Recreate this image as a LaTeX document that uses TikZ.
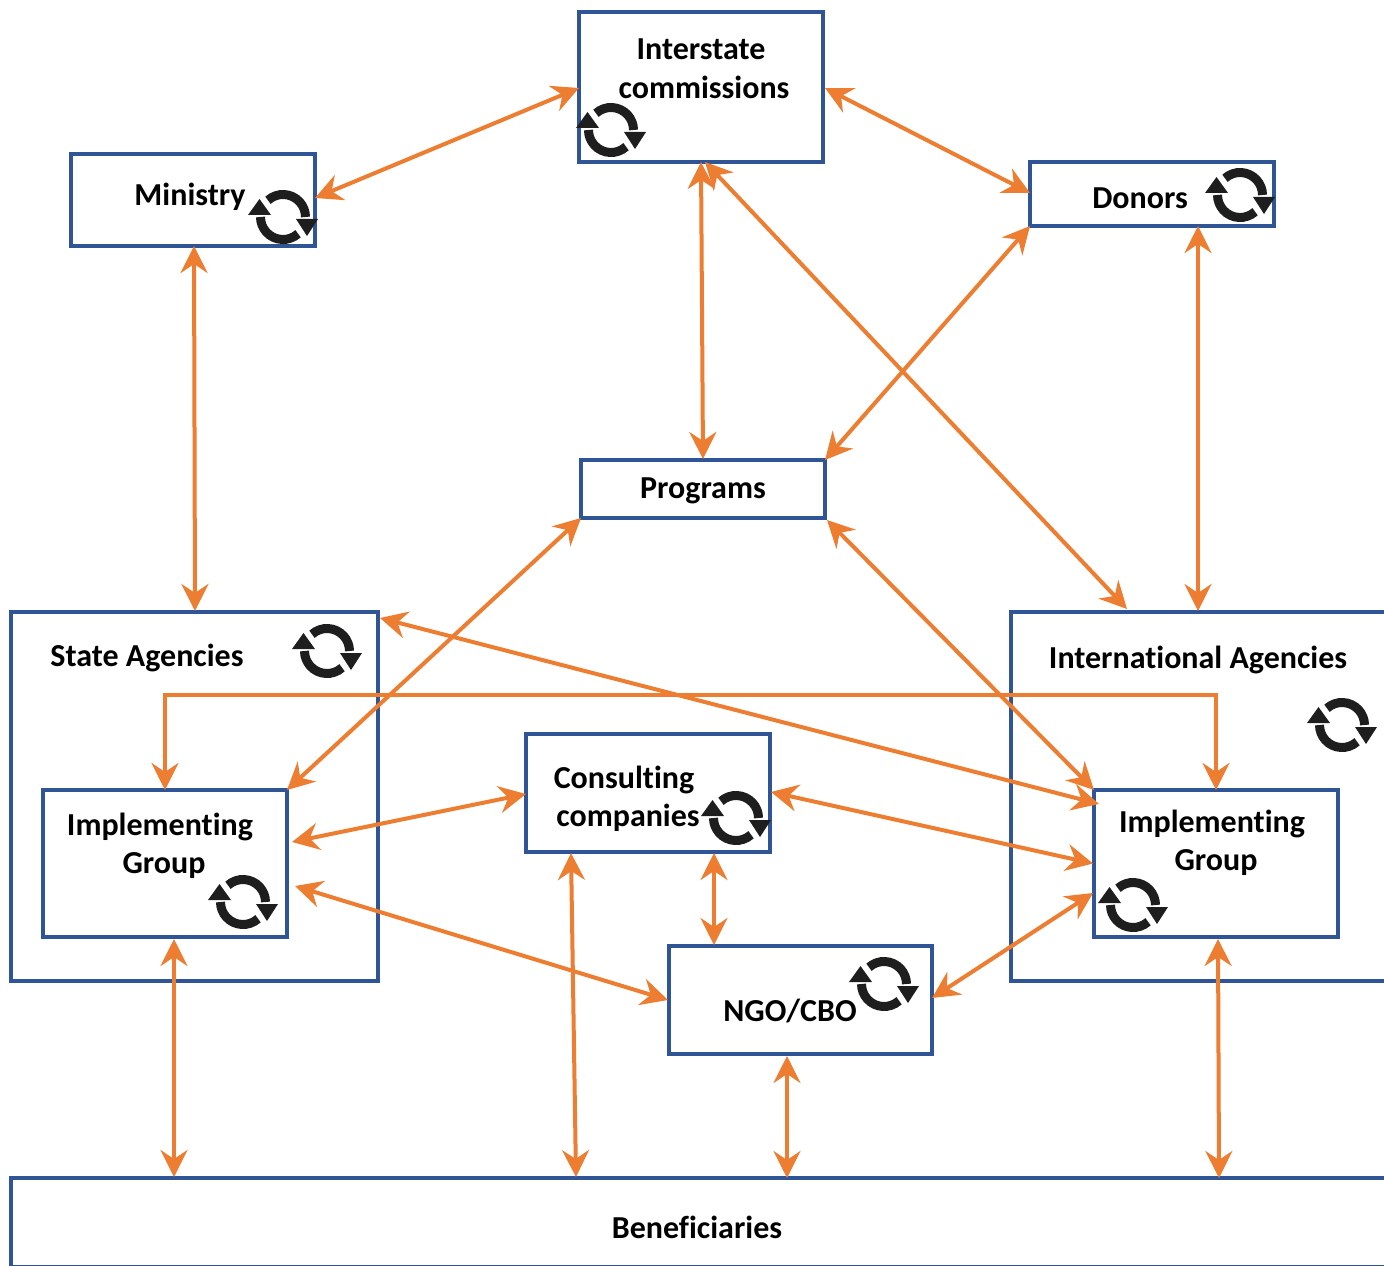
\documentclass[tikz,border=0pt]{standalone}
\usepackage{fontspec}
\setmainfont[Ligatures=NoCommon]{Carlito}
\usepackage{tikz}
\usetikzlibrary{arrows.meta,positioning}
\definecolor{boxblue}{HTML}{2F5597}
\definecolor{linkorange}{HTML}{ED7D31}
\definecolor{iconblack}{HTML}{1E1E1E}
\tikzset{box/.style 2 args={
    draw=boxblue,
    line width=2pt,
    minimum width=#1,
    minimum height=#2,
    inner sep=0pt,
    outer sep=0pt
  },
  boxtext/.style={
    font=\bfseries\fontsize{16}{19}\selectfont,
    align=center,
    inner sep=0pt
  },
  link/.style={
    draw=linkorange,
    line width=2pt,
    {Stealth[length=13.5pt,width=13.5pt,inset=4.5pt]}-{Stealth[length=13.5pt,width=13.5pt,inset=4.5pt]}
  },
  cycle icon/.pic={
    \draw[iconblack,line width=4.5pt] (132:11.25pt) arc[start angle=132,end angle=0,radius=11.25pt];
    \draw[iconblack,line width=4.5pt] (-48:11.25pt) arc[start angle=-48,end angle=-180,radius=11.25pt];
    \fill[iconblack] (6.5pt,-1pt) -- (17.5pt,-1pt) -- (12pt,-9.5pt) -- cycle;
    \fill[iconblack] (-6pt,1pt) -- (-17.5pt,1pt) -- (-11.75pt,9pt) -- cycle;
  }
}

\begin{document}
\begin{tikzpicture}[x=.5pt,y=.5pt]
    \clip (0,0) rectangle (1384,1265);
    % boxes
    \node[box={122pt}{75pt}] (interstate) at (701,1178) {};
    \node[box={122pt}{46pt}] (ministry) at (193,1065) {};
    \node[box={122pt}{32pt}] (donors) at (1152,1071) {};
    \node[box={122pt}{29pt}] (programs) at (703,776) {};
    \node[box={183.5pt}{184.5pt}] (state) at (194.5,468.5) {};
    \node[box={204.5pt}{184.5pt}] (intl) at (1215.5,468.5) {};
    \node[box={122pt}{73.5pt}] (impl left) at (165,401.5) {};
    \node[box={122pt}{73.5pt}] (impl right) at (1216,401.5) {};
    \node[box={122pt}{59pt}] (consulting) at (648,472) {};
    \node[box={131.5pt}{54pt}] (ngo) at (800.5,265) {};
    \node[box={704.5pt}{44.25pt}] (benef) at (715.5,42.75) {};
    % labels
    \node[boxtext] (interstate text) at (701,1196.5) {Interstate\\[.5pt]\hspace*{3pt}commissions};
    \node[boxtext] (ministry text) at (190,1068) {Ministry};
    \node[boxtext] (donors text) at (1140,1067) {Donors};
    \node[boxtext] (programs text) at (703,774) {Programs};
    \node[boxtext] (state text) at (147,607) {State Agencies};
    \node[boxtext] (intl text) at (1198,605) {International Agencies};
    \node[boxtext] (impl left text) at (160,419) {Implementing\\\hspace*{4pt}Group};
    \node[boxtext] (impl right text) at (1212,422) {Implementing\\\hspace*{4pt}Group};
    \node[boxtext] (consulting text) at (624,466) {Consulting\\\hspace*{4pt}companies};
    \node[boxtext] (ngo text) at (790,254) {NGO/CBO};
    \node[boxtext] (benef text) at (697,38) {Beneficiaries};
    % links
    \draw[link] ([yshift=1pt]ministry.east) -- ([yshift=-.5pt]interstate.west);
    \draw[link] ([yshift=-.5pt,xshift=1pt]interstate.east) -- ([yshift=.5pt]donors.west);
    \draw[link] (interstate.south) -- ([yshift=.5pt]programs.north);
    \draw[link] ([xshift=2pt]interstate.south) -- ([shift={(-44.25pt,1.5pt)}]intl.north);
    \draw[link] (donors.south west) -- (programs.north east);
    \draw[link] ([xshift=23pt]donors.south) -- ([shift={(-8.75pt,.5pt)}]intl.north);
    \draw[link] ([xshift=.5pt]ministry.south) -- ([shift={(.25pt,.5pt)}]state.north);
    \draw[link] (programs.south west) -- (impl left.north east);
    \draw[link] ([shift={(1pt,-1pt)}]programs.south east) -- (impl right.north west);
    \draw[link] ([shift={(1pt,-3pt)}]state.north east) -- ([shift={(2.5pt,-7pt)}]impl right.north west);
    \coordinate (bus) at (700,570);
    \draw[link] (impl left.north) -- (impl left.north |- bus) -- (impl right.north |- bus) -- (impl right.north);
    \draw[link] ([shift={(2.5pt,10.75pt)}]impl left.east) -- ([shift={(0pt,-.5pt)}]consulting.west);
    \draw[link] ([shift={(.5pt,.5pt)}]consulting.east) -- ([xshift=-.5pt]impl right.west);
    \draw[link] ([shift={(4pt,-11.25pt)}]impl left.east) -- ([xshift=-.5pt]ngo.west);
    \draw[link] ([shift={(-.5pt,-14.75pt)}]impl right.west) -- ([shift={(0pt,1pt)}]ngo.east);
    \draw[link] ([shift={(33pt,-.5pt)}]consulting.south) -- ([shift={(-43.25pt,.5pt)}]ngo.north);
    \draw[link] ([shift={(-38.5pt,-.5pt)}]consulting.south) -- ([shift={(-69.75pt,.5pt)}]benef.north);
    \draw[link] ([shift={(-6.75pt,-1pt)}]ngo.south) -- ([xshift=35.75pt]benef.north);
    \draw[link] ([shift={(4.5pt,-1pt)}]impl left.south) -- ([shift={(-270.75pt,.5pt)}]benef.north);
    \draw[link] ([shift={(1pt,-1pt)}]impl right.south) -- ([xshift=251.75pt]benef.north);
    % cycle icons
    \foreach \x/\y in {611/1135,283/1048,1240/1070,327/614,1342/540,243/363,1133/360,736/447,884/281}
      \pic at (\x,\y) {cycle icon};
\end{tikzpicture}
\end{document}
